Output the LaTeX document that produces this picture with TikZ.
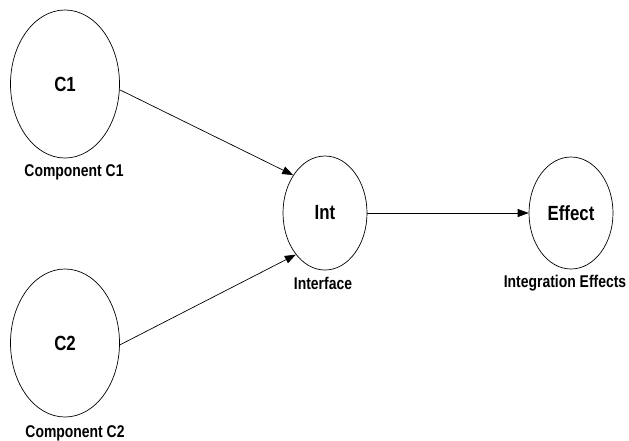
\documentclass[tikz,border=0pt]{standalone}
\usepackage{fontspec}
\setmainfont{Liberation Sans}[FakeStretch=0.82]
\usetikzlibrary{shapes.geometric,arrows.meta}
\begin{document}
\begin{tikzpicture}[x=1pt,y=-1pt,
  bubble/.style={draw,ellipse,inner sep=0pt,line width=0.7pt},
  bubtext/.style={font=\fontsize{20.5}{22}\selectfont\bfseries},
  caption/.style={font=\fontsize{17}{19}\selectfont\bfseries,inner sep=0pt},
  link/.style={line width=0.7pt,-{Triangle[length=11pt,width=8pt]}}]
  \useasboundingbox (0,0) rectangle (629,440);
  % components
  \node[bubble,minimum width=109pt,minimum height=148pt,bubtext] (c1) at (65,84) {C1};
  \node[bubble,minimum width=109pt,minimum height=148pt,bubtext] (c2) at (65,343) {C2};
  % interface and effect
  \node[bubble,minimum width=84pt,minimum height=114pt,bubtext] (int) at (325,213) {Int};
  \node[bubble,minimum width=84pt,minimum height=112pt,bubtext] (eff) at (571,213) {Effect};
  % captions
  \node[caption] (l1) at (74,172) {Component C1};
  \node[caption] (l2) at (75,433) {Component C2};
  \node[caption] (l3) at (323,283) {Interface};
  \node[caption] (l4) at (565,283) {Integration Effects};
  % connectors
  \draw[link] (c1.-6) -- (int.130);
  \draw[link] (c2.-2) -- (int.235);
  \draw[link] (int.east) -- (eff.west);
\end{tikzpicture}
\end{document}
